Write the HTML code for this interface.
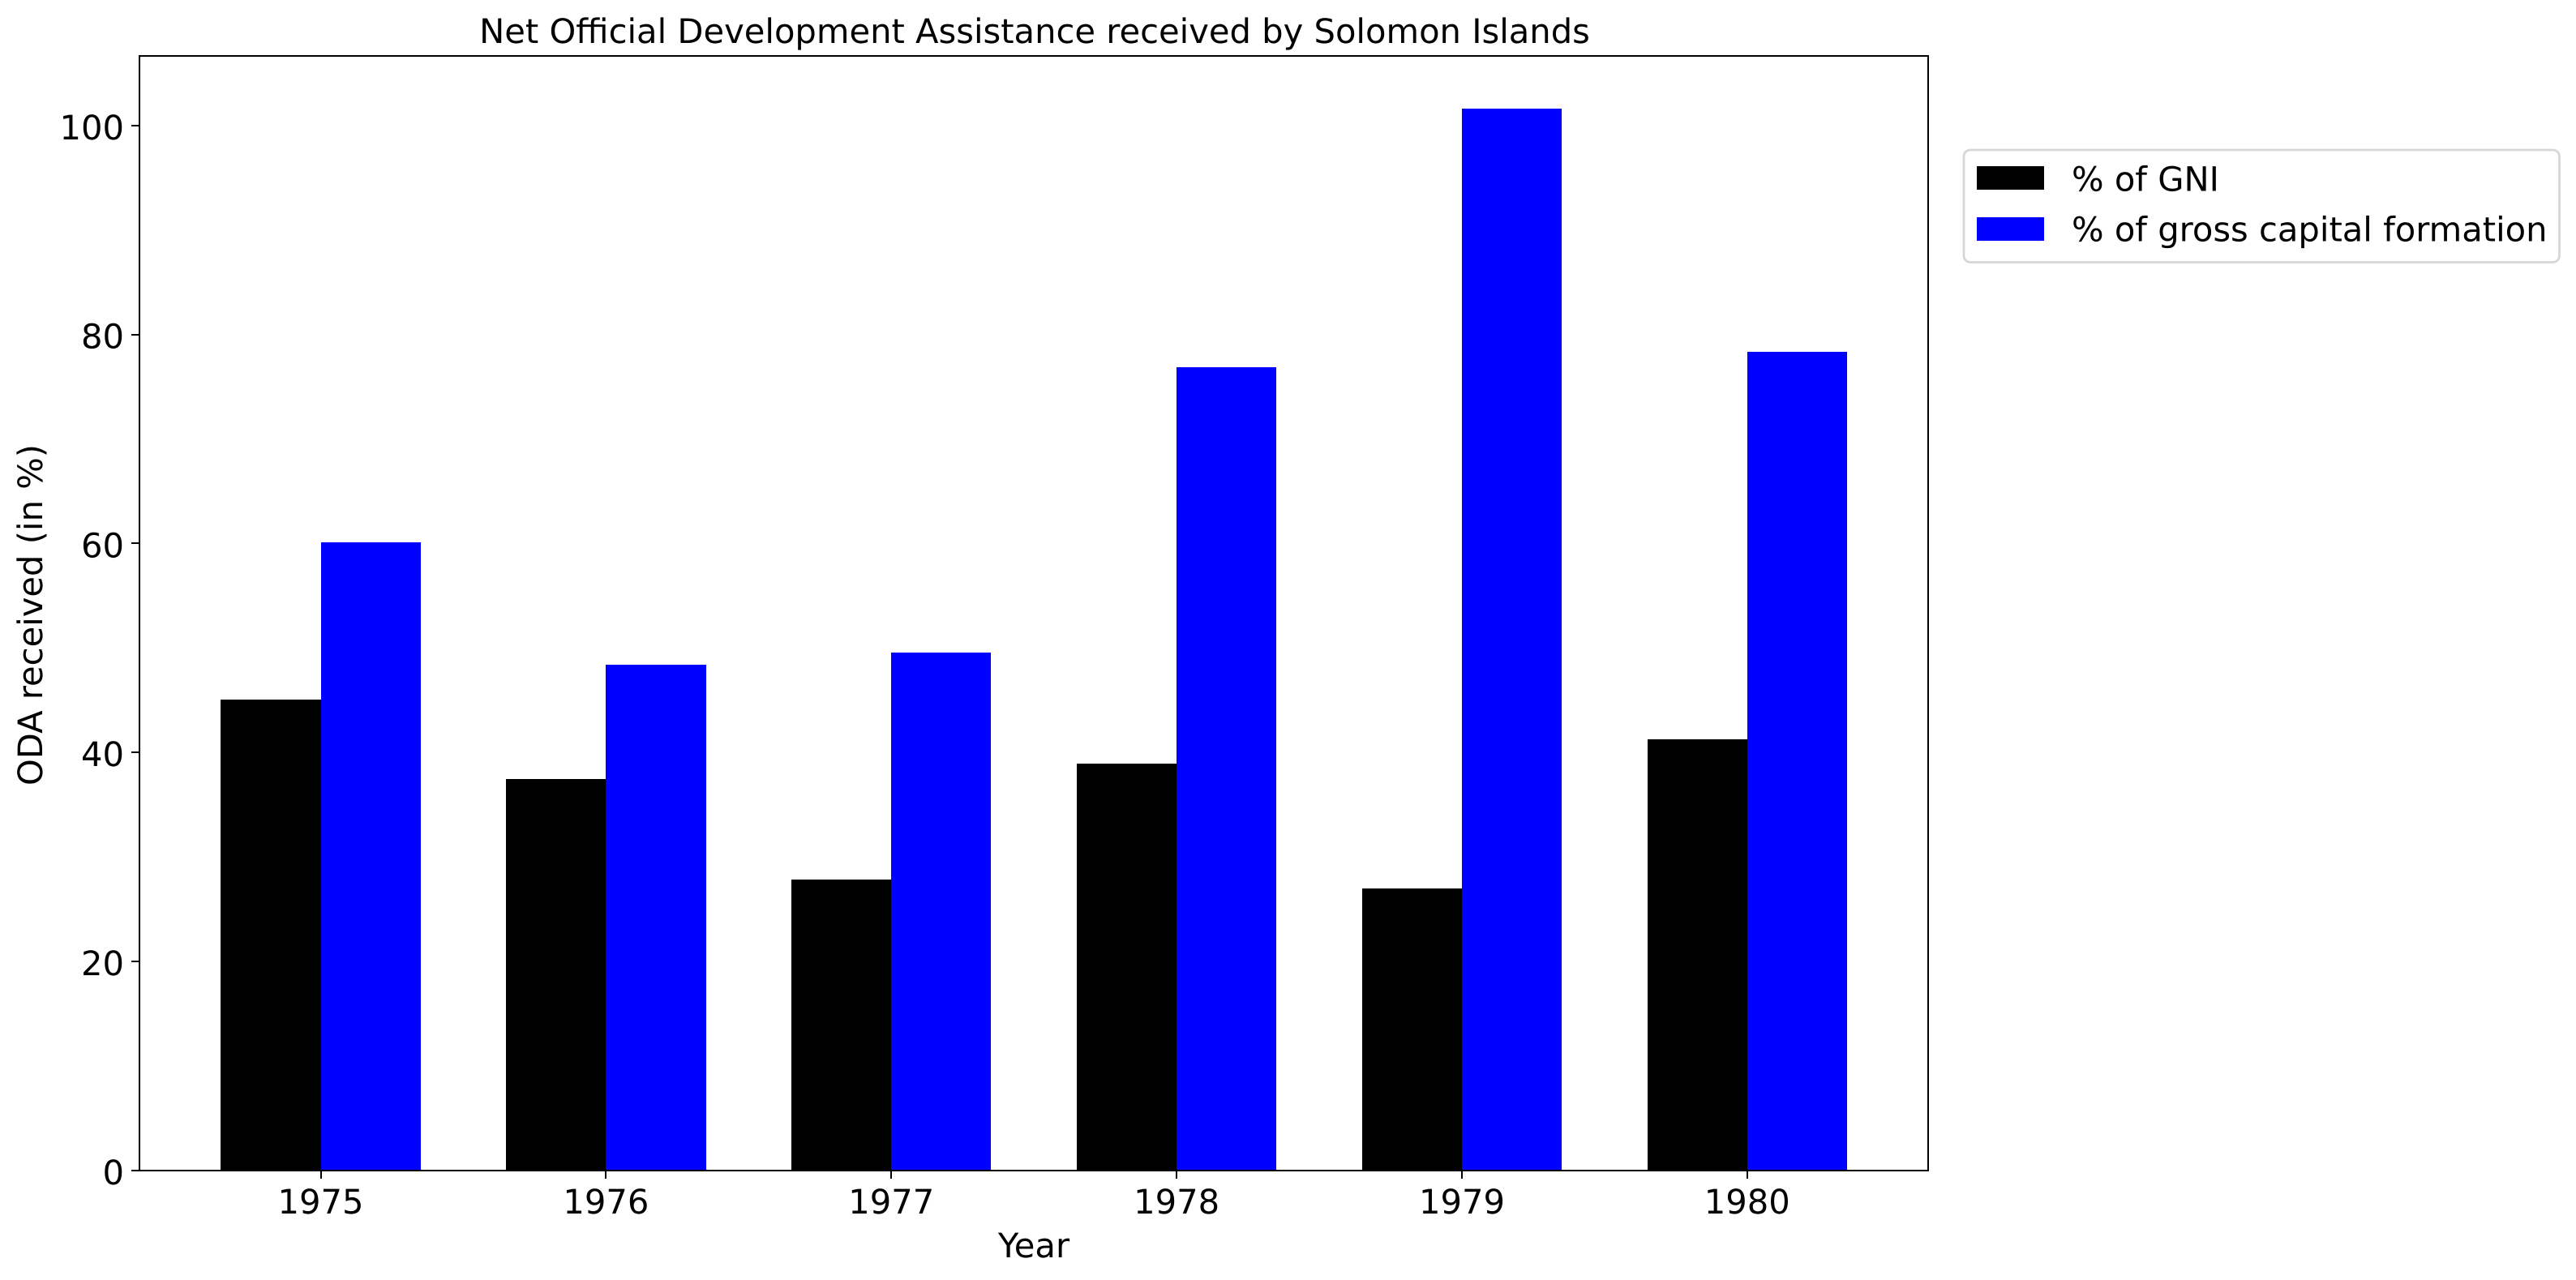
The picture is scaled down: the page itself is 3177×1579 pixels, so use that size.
<!DOCTYPE html>
<html lang="en">
<head>
<meta charset="utf-8">
<title>Net Official Development Assistance received by Solomon Islands</title>
<style>
  html, body { margin: 0; padding: 0; background: #fff; }
  body { width: 3177px; height: 1579px; overflow: hidden; }
  svg { display: block; }
  text { font-family: "DejaVu Sans", "Liberation Sans", sans-serif; fill: #000; text-rendering: geometricPrecision; }
</style>
</head>
<body>
<svg id="chart" xmlns="http://www.w3.org/2000/svg" width="3177" height="1579" viewBox="0 0 3177 1579">
  <rect x="0" y="0" width="3177" height="1579" fill="#fff"/>
  <g id="bars"></g>
  <g id="ticks"></g>
  <rect x="171" y="68" width="2" height="1377" fill="#000"/>
  <rect x="2377" y="68" width="2" height="1377" fill="#000"/>
  <rect x="171" y="68" width="2208" height="2" fill="#000"/>
  <rect x="171" y="1443" width="2208" height="2" fill="#000"/>
  <text x="1276" y="53" text-anchor="middle" font-size="41.67">Net Official Development Assistance received by Solomon Islands</text>
  <text x="1275" y="1551" text-anchor="middle" font-size="41.67">Year</text>
  <text transform="translate(52 758.5) rotate(-90)" text-anchor="middle" font-size="41.67">ODA received (in %)</text>
  <g>
    <rect x="2422" y="185" width="734.5" height="138.5" rx="8" ry="8" fill="#fff" fill-opacity="0.8" stroke="#ccc" stroke-opacity="0.8" stroke-width="2.78"/>
    <g>
      <rect x="2438" y="205" width="83" height="29" fill="#000"/>
      <text x="2555" y="235.5" font-size="41.67">% of GNI</text>
    </g>
    <g>
      <rect x="2438" y="268" width="83" height="29" fill="#0000ff"/>
      <text x="2555" y="297.5" font-size="41.67">% of gross capital formation</text>
    </g>
  </g>
</svg>
<script>
const years = ['1975', '1976', '1977', '1978', '1979', '1980'];
const pctGni = [45.06, 37.46, 27.84, 38.93, 26.98, 41.26];
const pctGrossCapital = [60.1, 48.4, 49.56, 76.87, 101.6, 78.34];
const yTickLabels = [0, 20, 40, 60, 80, 100];

const NS = 'http://www.w3.org/2000/svg';
const barsGroup = document.getElementById('bars');
const ticksGroup = document.getElementById('ticks');
const BAR_W = 123.2;

function xAxis(i) { return 395.55 + i * 351.85; }
function yAxis(v) { return 1443.8 - v * 12.89; }

function drawBar(parent, x0, x1, v, fill) {
  const el = document.createElementNS(NS, 'rect');
  const left = Math.round(x0);
  const right = Math.round(x1);
  const top = Math.round(yAxis(v));
  el.setAttribute('x', left);
  el.setAttribute('y', top);
  el.setAttribute('width', right - left);
  el.setAttribute('height', 1444 - top);
  el.setAttribute('fill', fill);
  parent.appendChild(el);
  return el;
}

years.forEach(function (year, i) {
  const cx = xAxis(i);

  const gniBar = drawBar(barsGroup, cx - BAR_W, cx, pctGni[i], '#000');
  
  

  const gcfBar = drawBar(barsGroup, cx, cx + BAR_W, pctGrossCapital[i], '#0000ff');
  
  

  const tick = document.createElementNS(NS, 'rect');
  tick.setAttribute('x', Math.round(cx) - 1);
  tick.setAttribute('y', 1445);
  tick.setAttribute('width', 2);
  tick.setAttribute('height', 9);
  tick.setAttribute('fill', '#000');
  
  
  ticksGroup.appendChild(tick);

  const label = document.createElementNS(NS, 'text');
  label.setAttribute('x', cx);
  label.setAttribute('y', 1497);
  label.setAttribute('text-anchor', 'middle');
  label.setAttribute('font-size', '41.67');
  
  
  label.textContent = year;
  ticksGroup.appendChild(label);
});

yTickLabels.forEach(function (v) {
  const py = yAxis(v);

  const tick = document.createElementNS(NS, 'rect');
  tick.setAttribute('x', 162);
  tick.setAttribute('y', Math.round(py) - 1);
  tick.setAttribute('width', 9);
  tick.setAttribute('height', 2);
  tick.setAttribute('fill', '#000');
  
  
  ticksGroup.appendChild(tick);

  const label = document.createElementNS(NS, 'text');
  label.setAttribute('x', 153);
  label.setAttribute('y', py + 17);
  label.setAttribute('text-anchor', 'end');
  label.setAttribute('font-size', '41.67');
  
  
  label.textContent = String(v);
  ticksGroup.appendChild(label);
});
</script>
</body>
</html>
